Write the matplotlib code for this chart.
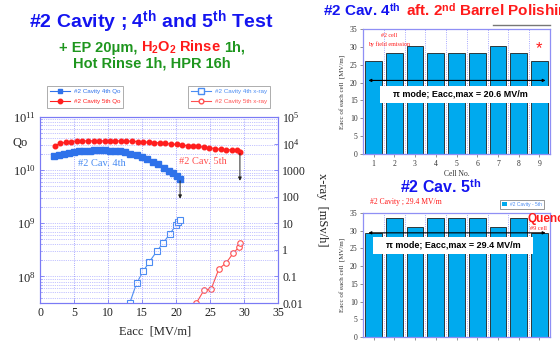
import matplotlib
matplotlib.use('Agg')
import matplotlib.pyplot as plt
from matplotlib.lines import Line2D
from matplotlib.patches import Rectangle
from matplotlib.ticker import FixedLocator, LogLocator, NullFormatter

plt.rcParams['mathtext.fontset'] = 'custom'
plt.rcParams['mathtext.rm'] = 'Liberation Serif'
plt.rcParams['mathtext.it'] = 'Liberation Serif:italic'
plt.rcParams['mathtext.bf'] = 'Liberation Sans:bold'
plt.rcParams['mathtext.sf'] = 'Liberation Sans'

SANS = 'Liberation Sans'
SERIF = 'Liberation Serif'

# ---------------- data ----------------
e4_qo = [2.0, 2.8, 3.6, 4.3, 5.0, 5.8, 6.5, 7.3, 8.0, 8.8, 9.5, 10.3, 11.0,
         11.8, 12.5, 13.3, 14.2, 15.0, 15.8, 16.6, 17.4, 18.2, 18.9, 19.5, 20.1, 20.6]
qo4 = [1.85e10, 1.95e10, 2.05e10, 2.12e10, 2.2e10, 2.25e10, 2.3e10, 2.33e10, 2.35e10,
       2.35e10, 2.35e10, 2.33e10, 2.3e10, 2.25e10, 2.15e10, 2.05e10, 1.9e10, 1.75e10,
       1.6e10, 1.45e10, 1.3e10, 1.12e10, 9.8e9, 8.7e9, 7.6e9, 6.8e9]
e5_qo = [2.2, 3.0, 3.8, 4.6, 5.4, 6.2, 7.0, 7.9, 8.7, 9.5, 10.3, 11.1, 11.9, 12.7,
         13.5, 14.4, 15.2, 16.0, 16.8, 17.6, 18.4, 19.2, 20.1, 20.9, 21.7, 22.5, 23.3,
         24.1, 24.9, 25.8, 26.6, 27.4, 28.2, 29.0, 29.4]
qo5 = [2.9e10, 3.2e10, 3.35e10, 3.45e10, 3.55e10, 3.55e10, 3.55e10, 3.55e10, 3.55e10,
       3.55e10, 3.55e10, 3.55e10, 3.55e10, 3.52e10, 3.5e10, 3.45e10, 3.4e10, 3.35e10,
       3.3e10, 3.25e10, 3.2e10, 3.1e10, 3.05e10, 2.95e10, 2.9e10, 2.85e10, 2.8e10,
       2.7e10, 2.62e10, 2.55e10, 2.45e10, 2.42e10, 2.4e10, 2.35e10, 2.2e10]
e4_x = [13.2, 14.2, 15.2, 16.1, 17.2, 18.1, 19.1, 20.0, 20.3, 20.6]
xray4 = [0.01, 0.055, 0.16, 0.36, 0.9, 1.8, 4.0, 8.5, 11.0, 13.0]
e5_x = [23.0, 24.1, 25.2, 26.3, 27.4, 28.4, 29.3, 29.4]
xray5 = [0.01, 0.03, 0.035, 0.19, 0.33, 0.74, 1.3, 1.8]

cells = [1, 2, 3, 4, 5, 6, 7, 8, 9]
cav4_cells = [26.1, 28.4, 30.2, 28.4, 28.4, 28.4, 30.2, 28.4, 26.1]
cav5_cells = [29.4, 33.5, 31.0, 33.5, 33.5, 33.5, 31.0, 33.5, 29.4]
emax4 = 20.6
emax5 = 29.4

xticks_main = [0, 5, 10, 15, 20, 25, 30, 35]
qo_ticks = [1e8, 1e9, 1e10, 1e11]
qo_ticklabels = ['$10^{8}$', '$10^{9}$', '$10^{10}$', '$10^{11}$']
xr_ticks = [0.01, 0.1, 1, 10, 100, 1000, 1e4, 1e5]
xr_ticklabels = ['0.01', '0.1', '1', '10', '100', '1000', '$10^{4}$', '$10^{5}$']

# ---------------- figure ----------------
W, H = 560, 341
fig = plt.figure(figsize=(W / 100, H / 100), dpi=100)
fig.patch.set_facecolor('white')
renderer = fig.canvas.get_renderer()


def fr(x0, y0, x1, y1):
    return [x0 / W, 1 - y1 / H, (x1 - x0) / W, (y1 - y0) / H]


def chain(pieces, x, y, ha='left'):
    """pieces: list of (text, color, size, gap_before_px). x,y in px, baseline."""
    texts = []
    widths = []
    for s, c, fs, g in pieces:
        t = fig.text(0, 1 - y / H, s, color=c, fontsize=fs, family=SANS,
                     weight='bold', va='baseline', ha='left')
        widths.append(t.get_window_extent(renderer).width)
        texts.append((t, g))
    total = sum(widths) + sum(g for _, g in texts)
    cur = x - total / 2 if ha == 'center' else x
    for (t, g), w in zip(texts, widths):
        cur += g
        t.set_x(cur / W)
        cur += w


BLUE_T = '#1414f0'
RED_T = '#ff1a1a'
GREEN_T = '#1e961e'

# titles
fig.text(151 / W, 1 - 28 / H, r'#2 Cavity ; 4$^{\mathbf{th}}$ and 5$^{\mathbf{th}}$ Test',
         color=BLUE_T, fontsize=14, family=SANS, weight='bold', ha='center', va='baseline')
chain([('+ EP 20\u03bcm,', GREEN_T, 10.5, 0),
       (r'H$_\mathbf{2}$O$_\mathbf{2}$ Rinse', RED_T, 10.5, 3),
       ('1h,', GREEN_T, 10.5, 3)], 152, 52, ha='center')
chain([('Hot Rinse 1h, HPR 16h', GREEN_T, 10.5, 0)], 152, 68, ha='center')

chain([(r'#2 Cav. 4$^{\mathbf{th}}$', BLUE_T, 11, 0),
       (r'aft. 2$^{\mathbf{nd}}$ Barrel Polishing', RED_T, 11, 5)], 323, 17)
chain([(r'#2 Cav. 5$^{\mathbf{th}}$', BLUE_T, 11.5, 0)], 441, 193, ha='center')

# ---------------- main chart ----------------
SPINE = '#7a7af5'
GRID = '#8c8cff'
C4 = '#2f72ea'
C4X = '#4a8cf2'
C5 = '#ff1e1e'
C5X = '#ff5050'

ax = fig.add_axes(fr(40, 117, 278, 303))
ax2 = ax.twinx()
ax.set_zorder(ax2.get_zorder() + 1)
ax.patch.set_visible(False)
ax2.patch.set_visible(False)

ax.set_xlim(0, 35)
ax.set_yscale('log')
ax.set_ylim(10 ** 7.5, 1e11)
ax2.set_yscale('log')
ax2.set_ylim(0.01, 1e5)

ax.xaxis.set_major_locator(FixedLocator(xticks_main))
ax.set_xticklabels([str(v) for v in xticks_main], family=SERIF, fontsize=8.5)
ax.yaxis.set_major_locator(FixedLocator(qo_ticks))
ax.set_yticklabels(qo_ticklabels, fontsize=9)
ax.yaxis.set_minor_locator(LogLocator(base=10, subs=range(2, 10)))
ax.yaxis.set_minor_formatter(NullFormatter())
ax2.yaxis.set_major_locator(FixedLocator(xr_ticks))
ax2.set_yticklabels(xr_ticklabels, family=SERIF, fontsize=8.5)
ax2.yaxis.set_minor_locator(LogLocator(base=10, subs=range(2, 10)))
ax2.yaxis.set_minor_formatter(NullFormatter())

for a in (ax, ax2):
    for s in a.spines.values():
        s.set_color(SPINE)
        s.set_linewidth(0.8)
    a.tick_params(which='both', direction='in', color=SPINE, labelcolor='#222222')
    a.tick_params(which='major', length=3, width=0.6, pad=3)
    a.tick_params(which='minor', length=1.5, width=0.4)

ax.set_axisbelow(True)
ax.grid(True, axis='x', which='major', ls=':', color=GRID, lw=0.6)
ax.grid(True, axis='y', which='both', ls=':', color=GRID, lw=0.5)

ax.plot(e4_qo, qo4, '-s', color=C4, ms=4, lw=0.8, mec=C4, mfc=C4)
ax.plot(e5_qo, qo5, '-o', color=C5, ms=3.3, lw=0.8, mec=C5, mfc=C5)
ax2.plot(e4_x, xray4, '-s', color=C4X, ms=4.5, lw=0.8, mfc='white', mec=C4X, mew=0.8)
ax2.plot(e5_x, xray5, '-o', color=C5X, ms=4, lw=0.8, mfc='white', mec=C5X, mew=0.8)

ax.annotate('', xy=(e4_qo[-1], 2.9e9), xytext=(e4_qo[-1], 6.3e9),
            arrowprops=dict(arrowstyle='-|>', color='#222222', lw=0.7, mutation_scale=5,
                            shrinkA=0, shrinkB=0))
ax.annotate('', xy=(e5_qo[-1], 6.3e9), xytext=(e5_qo[-1], 2.05e10),
            arrowprops=dict(arrowstyle='-|>', color='#222222', lw=0.7, mutation_scale=5,
                            shrinkA=0, shrinkB=0))

fig.text(102 / W, 1 - 163 / H, '#2 Cav. 4th', color=C4X, fontsize=7.5, family=SERIF,
         ha='center', va='center')
fig.text(203 / W, 1 - 161 / H, '#2 Cav. 5th', color=C5X, fontsize=7.5, family=SERIF,
         ha='center', va='center')
fig.text(20 / W, 1 - 143 / H, 'Qo', color='#222222', fontsize=9, family=SERIF,
         ha='center', va='center')
fig.text(322 / W, 1 - 210 / H, 'x-ray  [mSv/h]', color='#222222', fontsize=9,
         family=SERIF, ha='center', va='center', rotation=-90)
fig.text(155 / W, 1 - 331 / H, 'Eacc  [MV/m]', color='#222222', fontsize=9,
         family=SERIF, ha='center', va='center')

legprops = dict(family=SANS, size=4.5)
h1 = [Line2D([], [], color=C4, marker='s', ms=3.5, lw=0.8),
      Line2D([], [], color=C5, marker='o', ms=3.2, lw=0.8)]
lg1 = fig.legend(h1, ['#2 Cavity 4th Qo', '#2 Cavity 5th Qo'], loc='center',
                 bbox_to_anchor=(85 / W, 1 - 96.5 / H), prop=legprops, frameon=True,
                 fancybox=False, edgecolor='#888888', handlelength=3.2,
                 handletextpad=0.6, borderpad=0.5, labelspacing=0.8,
                 labelcolor=[C4, C5])
lg1.get_frame().set_linewidth(0.6)
h2 = [Line2D([], [], color=C4X, marker='s', ms=3.8, lw=0.8, mfc='white'),
      Line2D([], [], color=C5X, marker='o', ms=3.4, lw=0.8, mfc='white')]
lg2 = fig.legend(h2, ['#2 Cavity 4th x-ray', '#2 Cavity 5th x-ray'], loc='center',
                 bbox_to_anchor=(229 / W, 1 - 96.5 / H), prop=legprops, frameon=True,
                 fancybox=False, edgecolor='#888888', handlelength=3.2,
                 handletextpad=0.6, borderpad=0.5, labelspacing=0.8,
                 labelcolor=[C4X, C5X])
lg2.get_frame().set_linewidth(0.6)

# ---------------- bar charts ----------------
BAR = '#00aaee'
BSPINE = '#8f8ff5'


def bar_panel(rect, values, emax, box_axes, text_x, xlabels=True):
    b = fig.add_axes(rect)
    b.bar(cells, values, width=0.8, color=BAR, edgecolor='#202020', lw=0.6, zorder=2)
    b.set_xlim(0.49, 9.51)
    b.set_ylim(0, 35)
    b.set_xticks(cells)
    if xlabels:
        b.set_xticklabels([str(c) for c in cells], family=SERIF, fontsize=5.5)
    else:
        b.set_xticklabels([])
    b.set_yticks(range(0, 36, 5))
    b.set_yticklabels([str(v) for v in range(0, 36, 5)], family=SERIF, fontsize=5.5)
    b.set_xticks([c + 0.5 for c in cells[:-1]], minor=True)
    b.grid(True, axis='x', which='minor', ls=':', color=GRID, lw=0.6, zorder=0)
    b.tick_params(which='both', length=2, width=0.5, color='#666666',
                  labelcolor='#333333', pad=2)
    b.tick_params(which='minor', length=0)
    for s in b.spines.values():
        s.set_color(BSPINE)
        s.set_linewidth(0.9)
    b.set_ylabel('Eacc of each cell  [MV/m]', family=SERIF, fontsize=5, labelpad=3,
                 color='#333333')
    b.annotate('', xy=(0.75, emax), xytext=(9.3, emax),
               arrowprops=dict(arrowstyle='<|-|>', color='black', lw=0.8,
                               mutation_scale=4, shrinkA=0, shrinkB=0), zorder=4)
    x0, y0, x1, y1 = box_axes
    b.add_patch(Rectangle((x0, y0), x1 - x0, y1 - y0, transform=b.transAxes,
                          facecolor='white', edgecolor='none', zorder=5))
    b.text(text_x, (y0 + y1) / 2, '\u03c0 mode; Eacc,max = %.1f MV/m' % emax,
           transform=b.transAxes, ha='center', va='center', family=SANS,
           weight='bold', fontsize=6.5, color='black', zorder=6)
    return b


b1 = bar_panel(fr(363, 29, 550, 154), cav4_cells, emax4,
               (0.091, 0.408, 1.0, 0.544), 0.52)
b1.set_xlabel('Cell No.', family=SERIF, fontsize=5.5, labelpad=2, color='#333333')
b1.text(1.75, 33.2, '#2 cell', color=RED_T, fontsize=4.3, family=SERIF,
        ha='center', va='center')
b1.text(1.75, 30.8, 'by field emission', color=RED_T, fontsize=4.3, family=SERIF,
        ha='center', va='center')
b1.text(9, 27.4, '*', color=RED_T, fontsize=12, family=SANS, ha='center', va='bottom')

b2 = bar_panel(fr(363, 213, 550, 337), cav5_cells, emax5,
               (0.053, 0.667, 0.909, 0.81), 0.481, xlabels=False)
fig.text(370 / W, 1 - 202 / H, '#2 Cavity ; 29.4 MV/m', color=RED_T, fontsize=5.5,
         family=SERIF, ha='left', va='center')
fig.text(528 / W, 1 - 222 / H, 'Quench', color=RED_T, fontsize=8.5, family=SANS,
         weight='bold', ha='left', va='baseline')
fig.text(530 / W, 1 - 228 / H, '#9 cell', color=RED_T, fontsize=4.5, family=SERIF,
         ha='left', va='center')
lg3 = fig.legend([Rectangle((0, 0), 1, 1, fc=BAR, ec='none')], ['#2 Cavity - 5th'],
                 loc='center', bbox_to_anchor=(522 / W, 1 - 204.5 / H),
                 prop=dict(family=SANS, size=3.5), frameon=True, fancybox=False,
                 edgecolor='#666666', handlelength=1.0, handleheight=0.8,
                 borderpad=0.4, labelcolor=C4X)
lg3.get_frame().set_linewidth(0.6)

fig.add_artist(Line2D([493 / W, 550 / W], [1 - 25 / H, 1 - 25 / H], color='#777777',
                      lw=1.0, transform=fig.transFigure))

fig.savefig('out.png', dpi=100, facecolor='white')
